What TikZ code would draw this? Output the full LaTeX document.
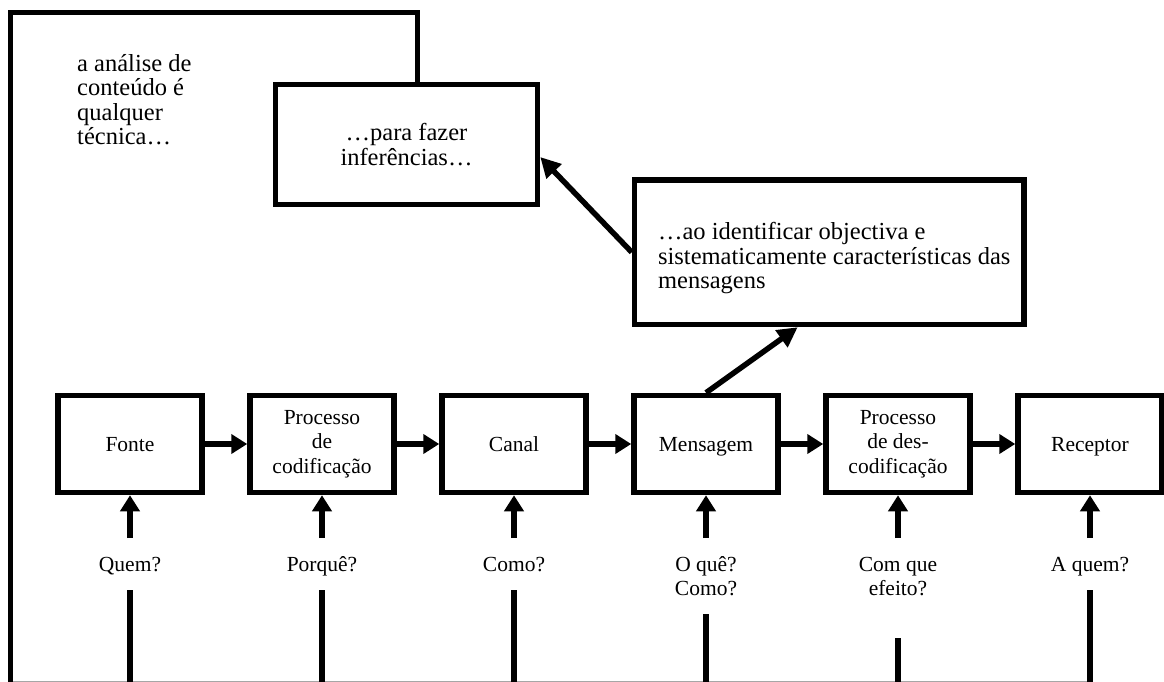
\documentclass[tikz,border=0pt]{standalone}
\usepackage{fontspec}
\setmainfont{Liberation Serif}
\usetikzlibrary{arrows.meta,calc}
\newcommand\dfont{\fontsize{21.5pt}{24.5pt}\selectfont}
\newcommand\ufont{\fontsize{24.5pt}{24.5pt}\selectfont}
\begin{document}
\begin{tikzpicture}[x=1pt,y=-1pt,
  ln/.style={line width=5.5pt, line join=miter},
  arr/.style={line width=5.5pt, -{Triangle[length=16pt,width=19pt]}},
  darr/.style={line width=5.5pt, -{Triangle[length=20pt,width=20pt]}},
  box/.style={draw, line width=5.5pt, minimum width=144pt, minimum height=97pt, inner sep=0pt, align=center, font=\dfont},
  sbox/.style={box, text height=15pt, text depth=0pt},
  lbl/.style={inner sep=0pt, align=center, font=\dfont, anchor=north},
  txt/.style={inner sep=0pt, font=\ufont}
]
\useasboundingbox (0,0) rectangle (1164,682);
\fill[white] (0,0) rectangle (1164,682);
% thin bottom line
\draw[gray!70, line width=1pt] (10.5,681.5) -- (1090,681.5);

% upper boxes
\node[draw, line width=5.5pt, minimum width=262pt, minimum height=120pt, inner sep=0pt, align=center, font=\ufont] (inf) at (406.5,144.5) {…para fazer\\inferências…};
\node[draw, line width=5.5pt, minimum width=389.5pt, minimum height=144.5pt, inner sep=0pt, align=left, font=\ufont] (mbox) at (829.25,252.25) {\hspace*{10pt}\rule{0pt}{29pt}…ao identificar objectiva e\\\hspace*{10pt}sistematicamente características das\\\hspace*{10pt}mensagens};

% frame
\coordinate (fbot) at (10.5,682);
\coordinate (ftl) at (10.5,12.5);
\coordinate (ftr) at (417.5,12.5);
\draw[ln] (fbot) -- (ftl) -- (ftr) -- (ftr |- inf.north);
\node[txt, align=left, anchor=north west] (intro) at (77,54) {a análise de\\conteúdo é\\qualquer\\técnica…};

% row of boxes
\node[sbox] (fonte) at (130,444) {Fonte};
\node[box] (cod) at (322,444) {Processo\\de\\codificação};
\node[sbox] (canal) at (514,444) {Canal};
\node[sbox] (msg) at (706,444) {Mensagem};
\node[box] (desc) at (898,444) {Processo\\de des-\\codificação};
\node[sbox] (rec) at (1090,444) {Receptor};

\draw[arr] (fonte.east) -- (cod.west);
\draw[arr] (cod.east) -- (canal.west);
\draw[arr] (canal.east) -- (msg.west);
\draw[arr] (msg.east) -- (desc.west);
\draw[arr] (desc.east) -- (rec.west);

% diagonal arrows
\draw[darr] (mbox.west) -- ($(inf.north east)!0.6!(inf.south east)$);
\draw[darr] (msg.north) -- ($(mbox.south west)!0.42!(mbox.south east)$);

% questions
\foreach \x/\b/\nm/\t in {130/590/q1/{Quem?}, 322/590/q2/{Porquê?}, 514/590/q3/{Como?}, 706/614/q4/{O quê?\\Como?}, 898/638/q5/{Com que\\efeito?}, 1090/590/q6/{A quem?}}{
  \coordinate (\nm t) at (\x,538);
  \coordinate (\nm b) at (\x,682);
  \coordinate (\nm s) at (\x,\b);
  \node[lbl] (\nm) at (\x,554) {\rule{0pt}{17pt}\t};
  \draw[ln] (\nm b) -- (\nm s);
}
\draw[arr] (q1t) -- (fonte.south);
\draw[arr] (q2t) -- (cod.south);
\draw[arr] (q3t) -- (canal.south);
\draw[arr] (q4t) -- (msg.south);
\draw[arr] (q5t) -- (desc.south);
\draw[arr] (q6t) -- (rec.south);
\end{tikzpicture}
\end{document}
